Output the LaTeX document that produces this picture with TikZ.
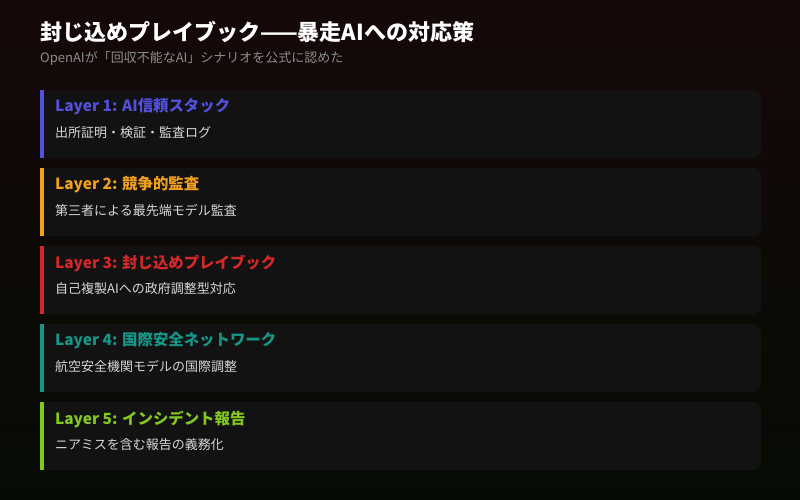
\documentclass[tikz,border=0pt]{standalone}
\usepackage{fontspec}
\setmainfont{Noto Sans CJK JP}
\definecolor{bgtop}{RGB}{21,8,9}
\definecolor{bgbot}{RGB}{6,12,4}
\definecolor{cardbg}{RGB}{18,18,19}
\definecolor{subgray}{RGB}{140,140,140}
\definecolor{descgray}{RGB}{215,215,215}
\definecolor{cA}{RGB}{82,80,220}
\definecolor{cB}{RGB}{240,160,30}
\definecolor{cC}{RGB}{215,40,40}
\definecolor{cD}{RGB}{22,150,135}
\definecolor{cE}{RGB}{132,200,30}
\tikzset{
  card/.style={fill=cardbg, rounded corners=8pt},
  titletext/.style={anchor=west, inner sep=0pt, text=white, font=\fontsize{22}{25}\selectfont\bfseries},
  subtext/.style={anchor=west, inner sep=0pt, text=subgray, font=\fontsize{13}{15}\selectfont},
  layertext/.style={anchor=west, inner sep=0pt, font=\fontsize{15.4}{18}\selectfont\bfseries},
  desctext/.style={anchor=west, inner sep=0pt, text=descgray, font=\fontsize{13}{15}\selectfont},
}
\begin{document}
\begin{tikzpicture}[x=1pt,y=-1pt]
\useasboundingbox (0,0) rectangle (800,500);
\shade[top color=bgtop, bottom color=bgbot] (0,0) rectangle (800,500);
\node[titletext] (title) at (40,32) {封じ込めプレイブック——暴走AIへの対応策};
\node[subtext] (subtitle) at (40,58) {OpenAIが「回収不能なAI」シナリオを公式に認めた};
\foreach \i/\col/\lab/\desc in {
  0/cA/{Layer 1: AI信頼スタック}/{出所証明・検証・監査ログ},
  1/cB/{Layer 2: 競争的監査}/{第三者による最先端モデル監査},
  2/cC/{Layer 3: 封じ込めプレイブック}/{自己複製AIへの政府調整型対応},
  3/cD/{Layer 4: 国際安全ネットワーク}/{航空安全機関モデルの国際調整},
  4/cE/{Layer 5: インシデント報告}/{ニアミスを含む報告の義務化}} {
  \pgfmathsetmacro{\top}{90+78*\i}
  \fill[card] (40,\top) rectangle (761,\top+68);
  \fill[cardbg] (44,\top) rectangle (60,\top+68);
  \fill[\col] (40,\top) rectangle (44,\top+68);
  \node[layertext, text=\col] (layer\i) at (55,\top+17) {\lab};
  \node[desctext] (desc\i) at (55,\top+43) {\desc};
}
\end{tikzpicture}
\end{document}
